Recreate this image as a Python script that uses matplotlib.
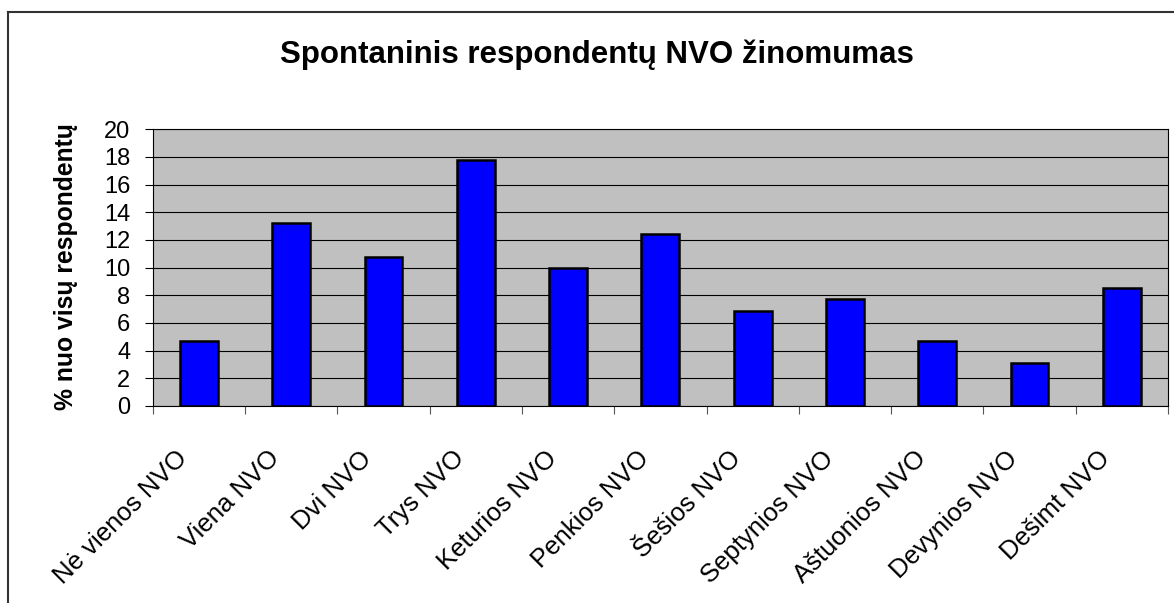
import matplotlib
matplotlib.use("Agg")
import matplotlib.pyplot as plt
import matplotlib.transforms as mtransforms
from matplotlib.lines import Line2D
import numpy as np

plt.rcParams["font.family"] = ["Liberation Sans", "DejaVu Sans"]

categories = [
    "Nė vienos NVO", "Viena NVO", "Dvi NVO", "Trys NVO", "Keturios NVO",
    "Penkios NVO", "Šešios NVO", "Septynios NVO", "Aštuonios NVO",
    "Devynios NVO", "Dešimt NVO",
]
values = [4.7, 13.2, 10.8, 17.8, 10.0, 12.4, 6.9, 7.7, 4.7, 3.1, 8.5]
yticks = list(range(0, 21, 2))

title = "Spontaninis respondentų NVO žinomumas"
ylabel = "% nuo visų respondentų"

W, H = 1174, 603
fig = plt.figure(figsize=(W / 100, H / 100), dpi=100)
ax = fig.add_axes([152.7 / W, 1 - 406 / H, (1168 - 152.7) / W, (406 - 129.3) / H])

x = np.arange(len(categories))
ax.bar(x, values, width=0.41, color="#0000FF", edgecolor="black", linewidth=1.8, zorder=3)

ax.set_facecolor("#C0C0C0")
ax.set_xlim(-0.5, len(categories) - 0.5)
ax.set_ylim(0, 20)
ax.set_yticks(yticks)
ax.yaxis.grid(True, color="black", linewidth=0.8, zorder=1)
ax.set_axisbelow(True)
for s in ax.spines.values():
    s.set_color("black")
    s.set_linewidth(0.8)

ax.tick_params(axis="y", direction="out", length=6, width=0.8, pad=10, labelsize=17)

# category labels centred on bars, tick marks between the categories
ax.set_xticks(x)
ax.set_xticklabels(categories)
ax.set_xticks(np.arange(len(categories) + 1) - 0.5, minor=True)
ax.tick_params(axis="x", which="major", length=0, pad=29, labelsize=18.5)
ax.tick_params(axis="x", which="minor", direction="out", length=6, width=0.8, color="#555555")
shift = mtransforms.ScaledTranslation(-17 / 72, 0, fig.dpi_scale_trans)
for lbl in ax.get_xticklabels():
    lbl.set_rotation(45)
    lbl.set_ha("right")
    lbl.set_va("top")
    lbl.set_rotation_mode("anchor")
    lbl.set_transform(lbl.get_transform() + shift)

fig.text(596.5 / W, 1 - 62.5 / H, title, ha="center", va="baseline",
         fontsize=22.5, fontweight="bold")
fig.text(66 / W, 1 - 267 / H, ylabel, ha="center", va="center",
         rotation=90, fontsize=17.8, fontweight="bold")

# chart area frame (left and top edges visible)
fig.add_artist(Line2D([8 / W, 8 / W], [0, 1 - 12 / H], color="#333333", linewidth=1.5))
fig.add_artist(Line2D([8 / W, 1], [1 - 12 / H, 1 - 12 / H], color="#333333", linewidth=1.5))

fig.savefig("out.png", dpi=100)
plt.close(fig)
